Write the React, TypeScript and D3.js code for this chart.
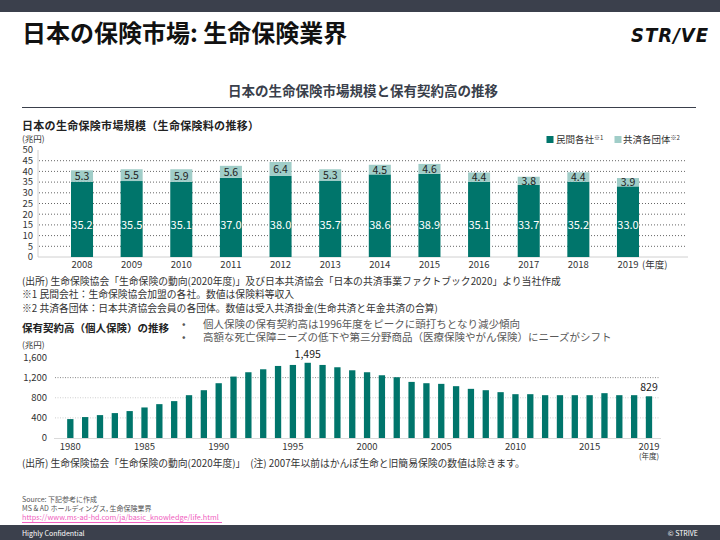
import React from "react";
import * as d3 from "d3";

const yearsU = ["2008","2009","2010","2011","2012","2013","2014","2015","2016","2017","2018","2019"];
const privateCos = [35.2,35.5,35.1,37.0,38.0,35.7,38.6,38.9,35.1,33.7,35.2,33.0];
const coops = [5.3,5.5,5.9,5.6,6.4,5.3,4.5,4.6,4.4,3.8,4.4,3.9];
const ticksU = [0,5,10,15,20,25,30,35,40,45,50];
const gridU = [5,10,15,20,25,30,35,40,45];

const yearsL = d3.range(1980, 2020).map(String);
const contracts = [376,416,455,495,535,607,673,733,851,950,1089,1221,1307,1366,1432,1452,1495,1452,1406,1346,1307,1247,1208,1115,1089,1076,1030,977,950,911,871,871,851,851,851,851,891,851,851,829];
const ticksL = [0,400,800,1200,1600];
const labelYearsL = ["1980","1985","1990","1995","2000","2005","2010","2015","2019"];
const annotatedL = ["1996","2019"];

const DARK = "#00756B";
const LIGHT = "#A0CDC8";
const FONT = "'Noto Sans CJK JP', 'Noto Sans', sans-serif";

export default function App() {
  const yU = d3.scaleLinear().domain([0, 50]).range([257, 150]);
  const xU = d3.scaleBand().domain(yearsU).range([57.2, 652.8]).paddingInner(0.556).paddingOuter(0.278);
  const yL = d3.scaleLinear().domain([0, 1600]).range([438, 357.5]);
  const xL = d3.scaleBand().domain(yearsL).range([62.9, 656.4]).paddingInner(0.575).paddingOuter(0.2875);
  const fmt = d3.format(",");
  const bwU = xU.bandwidth();
  const bwL = xL.bandwidth();

  return (
    <svg width={720} height={540} style={{ position: "absolute", left: 0, top: 0, display: "block" }} fontFamily={FONT}>
      <rect x={0} y={0} width={720} height={540} fill="#fff" />
      <rect x={0} y={0} width={720} height={12} fill="#3B404C" />
      <text x={22} y={42} fontSize={24} fontWeight={700} fill="#111">日本の保険市場: 生命保険業界</text>
      <text x={709} y={42} textAnchor="end" fontSize={20} fontWeight={700} fontStyle="italic" fill="#111" fontFamily="'DejaVu Sans Condensed', 'DejaVu Sans', sans-serif" letterSpacing={1}>STR/VE</text>

      <text x={363} y={96} textAnchor="middle" fontSize={13.5} fontWeight={700} fill="#3A3F4B">日本の生命保険市場規模と保有契約高の推移</text>
      <line x1={22} x2={696} y1={107.5} y2={107.5} stroke="#3A3F4B" strokeWidth={1} />

      {/* Upper chart */}
      <text x={22} y={130} fontSize={11} fontWeight={700} fill="#222" letterSpacing={0.3}>日本の生命保険市場規模（生命保険料の推移）</text>
      <text x={22} y={142} fontSize={8.5} fill="#333">(兆円)</text>
      {gridU.map((t) => (
        <line key={"gu" + t} x1={39} x2={686} y1={yU(t)} y2={yU(t)} stroke="#666" strokeWidth={1} strokeDasharray="1 2" />
      ))}
      <line x1={38} x2={38} y1={150} y2={257} stroke="#D0D0D0" strokeWidth={1} />
      <line x1={38} x2={688} y1={257} y2={257} stroke="#D0D0D0" strokeWidth={1} />
      {ticksU.map((t) => (
        <text key={"tu" + t} x={33} y={yU(t)} dy="0.35em" textAnchor="end" fontSize={9.5} fill="#333">{t}</text>
      ))}
      {yearsU.map((yr, i) => {
        const x = xU(yr)!;
        const a = privateCos[i];
        const b = coops[i];
        return (
          <g key={"bu" + yr}>
            <rect x={x} y={yU(a)} width={bwU} height={yU(0) - yU(a)} fill={DARK} />
            <rect x={x} y={yU(a + b)} width={bwU} height={yU(a) - yU(a + b)} fill={LIGHT} />
            <text x={x + bwU / 2} y={yU(15)} dy="0.35em" textAnchor="middle" fontSize={11} fill="#fff">{a.toFixed(1)}</text>
            <text x={x + bwU / 2} y={(yU(a) + yU(a + b)) / 2} dy="0.38em" textAnchor="middle" fontSize={10.5} fill="#222">{b.toFixed(1)}</text>
            <text x={x + bwU / 2} y={268} textAnchor="middle" fontSize={9.5} fill="#333">{yr}</text>
          </g>
        );
      })}
      <text x={xU("2019")! + bwU / 2 + 14} y={268} fontSize={9.5} fill="#333">(年度)</text>
      {/* legend */}
      <rect x={546.5} y={136} width={7} height={7} fill={DARK} />
      <text x={556} y={143} fontSize={9.5} fill="#333">民間各社<tspan fontSize={6} dy={-3.5}>※1</tspan></text>
      <rect x={614.5} y={136} width={7} height={7} fill={LIGHT} />
      <text x={623} y={143} fontSize={9.5} fill="#333">共済各団体<tspan fontSize={6} dy={-3.5}>※2</tspan></text>

      {/* notes */}
      <text x={22} y={285} fontSize={9.8} fill="#333">(出所) 生命保険協会「生命保険の動向(2020年度)」及び日本共済協会「日本の共済事業ファクトブック2020」より当社作成</text>
      <text x={22} y={298} fontSize={9.8} fill="#333">※1 民間会社：生命保険協会加盟の各社。数値は保険料等収入</text>
      <text x={22} y={311.5} fontSize={9.8} fill="#333">※2 共済各団体：日本共済協会会員の各団体。数値は受入共済掛金(生命共済と年金共済の合算)</text>

      {/* Lower chart */}
      <text x={22} y={332} fontSize={10.5} fontWeight={700} fill="#222">保有契約高（個人保険）の推移</text>
      <text x={182} y={327.5} fontSize={10.5} fill="#595959">•</text>
      <text x={203} y={328} fontSize={10.5} fill="#595959">個人保険の保有契約高は1996年度をピークに頭打ちとなり減少傾向</text>
      <text x={182} y={340.5} fontSize={10.5} fill="#595959">•</text>
      <text x={203} y={341} fontSize={10.5} fill="#595959">高額な死亡保障ニーズの低下や第三分野商品（医療保険やがん保険）にニーズがシフト</text>
      <text x={22} y={348} fontSize={8.5} fill="#333">(兆円)</text>
      {ticksL.slice(1, 4).map((t) => (
        <line key={"gl" + t} x1={55} x2={660} y1={yL(t)} y2={yL(t)} stroke={t === 1200 ? "#888" : "#CFCFCF"} strokeWidth={1} strokeDasharray="1 1.5" />
      ))}
      <line x1={54} x2={661} y1={yL(0) + 0.5} y2={yL(0) + 0.5} stroke="#DADADA" strokeWidth={1} />
      {ticksL.map((t) => (
        <text key={"tl" + t} x={47} y={yL(t)} dy="0.35em" textAnchor="end" fontSize={9.5} fill="#333">{fmt(t)}</text>
      ))}
      {yearsL.map((yr, i) => {
        const x = xL(yr)!;
        const v = contracts[i];
        return (
          <g key={"bl" + yr}>
            <rect x={x} y={yL(v)} width={bwL} height={yL(0) - yL(v)} fill={DARK} />
            {annotatedL.includes(yr) && (
              <text x={x + bwL / 2} y={yL(v) - 5} textAnchor="middle" fontSize={10.5} fill="#222">{fmt(v)}</text>
            )}
          </g>
        );
      })}
      {labelYearsL.map((yr) => (
        <text key={"xl" + yr} x={xL(yr)! + bwL / 2} y={449.5} textAnchor="middle" fontSize={9.5} fill="#333">{yr}</text>
      ))}
      <text x={xL("2019")! + bwL / 2} y={459} textAnchor="middle" fontSize={7.5} fill="#333">(年度)</text>
      <text x={22} y={467} fontSize={9.8} fill="#333">(出所) 生命保険協会「生命保険の動向(2020年度)」　(注) 2007年以前はかんぽ生命と旧簡易保険の数値は除きます。</text>

      {/* footer */}
      <text x={22} y={502} fontSize={7} fill="#555">Source: 下記参考に作成</text>
      <text x={22} y={511} fontSize={7} fill="#555">MS &amp; AD ホールディングス, 生命保険業界</text>
      <text x={22} y={520} fontSize={7.3} fill="#F060C0">https://www.ms-ad-hd.com/ja/basic_knowledge/life.html</text>
      <line x1={22} x2={222} y1={522.5} y2={522.5} stroke="#F060C0" strokeWidth={1} />
      <rect x={0} y={525} width={720} height={15} fill="#3B404C" />
      <text x={22} y={535.5} fontSize={7} fill="#fff">Highly Confidential</text>
      <text x={698} y={535.5} textAnchor="end" fontSize={7} fill="#fff">© STRIVE</text>
    </svg>
  );
}
